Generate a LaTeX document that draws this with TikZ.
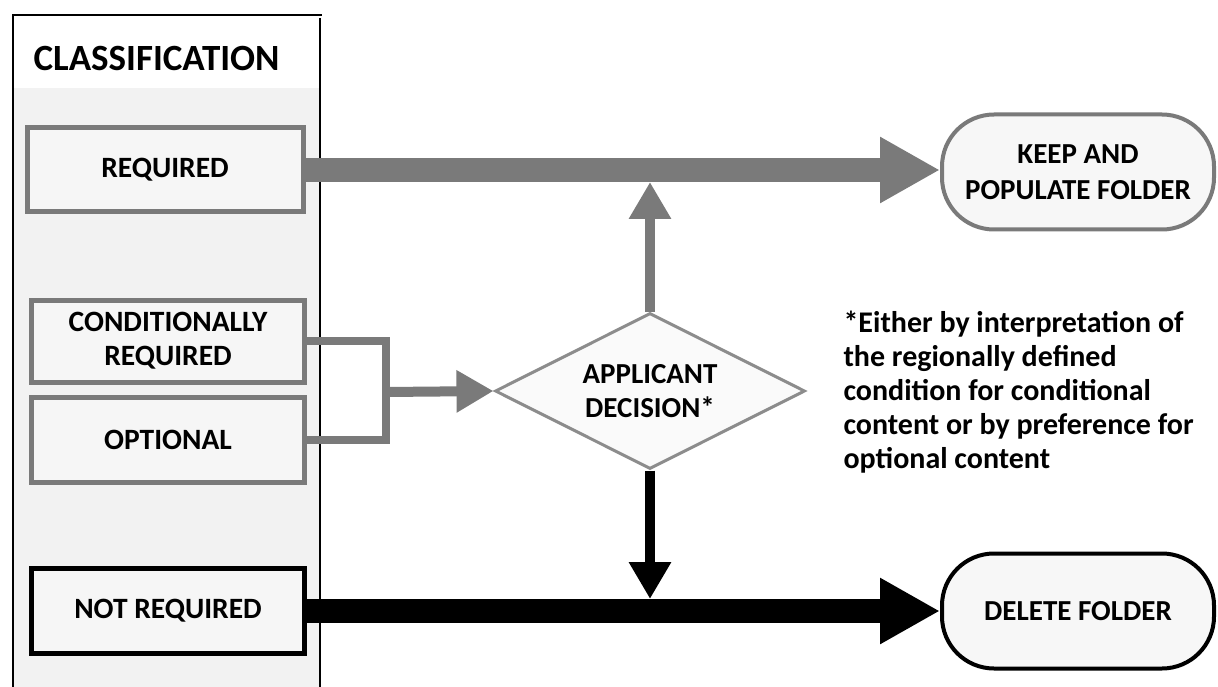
\documentclass[tikz,border=0pt]{standalone}
\usepackage{fontspec}
\setmainfont{Carlito}
\usetikzlibrary{arrows.meta,shapes.geometric}

\begin{document}
\begin{tikzpicture}[x=1pt,y=-1pt,
    classbox/.style={rectangle,line width=5pt,fill=gray!7,minimum width=273pt,minimum height=84pt,font=\bfseries\fontsize{29.5}{34}\selectfont,align=center},
    endnode/.style={rectangle,rounded corners=52pt,line width=4pt,fill=gray!6,minimum width=272pt,minimum height=115pt,font=\bfseries\fontsize{29}{36}\selectfont,align=center},
    bigarrow/.style={line width=24pt,-{Triangle[length=60pt,width=62pt]}},
    smallarrow/.style={line width=10pt,-{Triangle[length=37pt,width=40pt]}}]
  \useasboundingbox (0,0) rectangle (1218,687);

  %classification panel
  \fill[gray!10] (13,88) rectangle (320,687);
  \draw[line width=1.5pt] (13,687) -- (13,15) -- (322,15);
  \draw[line width=1.5pt] (320,18) -- (320,687);
  \node[anchor=west,font=\bfseries\fontsize{37}{42}\selectfont] (title) at (30,58){CLASSIFICATION};

  \node[classbox,draw=black!52,minimum width=276pt] (req) at (165,170){REQUIRED};
  \node[classbox,draw=black!52,minimum height=82pt] (cond) at (168,341){CONDITIONALLY\\REQUIRED};
  \node[classbox,draw=black!52,minimum height=85pt] (opt) at (168,440){OPTIONAL};
  \node[classbox,draw=black,minimum height=85pt] (notreq) at (168,611){NOT REQUIRED};

  %decision
  \node[diamond,aspect=2,inner sep=0pt,draw=black!45,line width=3pt,fill=gray!4,minimum width=310pt,minimum height=156pt,font=\bfseries\fontsize{29}{34}\selectfont,align=center] (dec) at (650,391){APPLICANT\\DECISION*};

  %outcomes
  \node[endnode,draw=black!52] (keep) at (1078,172){KEEP AND\\POPULATE FOLDER};
  \node[endnode,draw=black] (del) at (1078,611){DELETE FOLDER};

  \coordinate (brk) at (386,392);
  \coordinate (up) at (650,182);
  \coordinate (dn) at (650,599);

  \draw[bigarrow,black!52] (req.east) -- (keep.west |- req.east);
  \draw[bigarrow,black] (notreq.east) -- (del.west);
  \draw[line width=8pt,black!52] (cond.east) -| (brk) |- (opt.east);
  \draw[smallarrow,black!52] (brk) -- (dec.west);
  \draw[smallarrow,black!52] (dec.north) -- (up);
  \draw[smallarrow,black] (dec.south) -- (dn);

  %note
  \node[anchor=north west,align=left,font=\bfseries\fontsize{30}{34}\selectfont] (note) at (840,308){*Either by interpretation of\\the regionally defined\\condition for conditional\\content or by preference for\\optional content};
\end{tikzpicture}
\end{document}
